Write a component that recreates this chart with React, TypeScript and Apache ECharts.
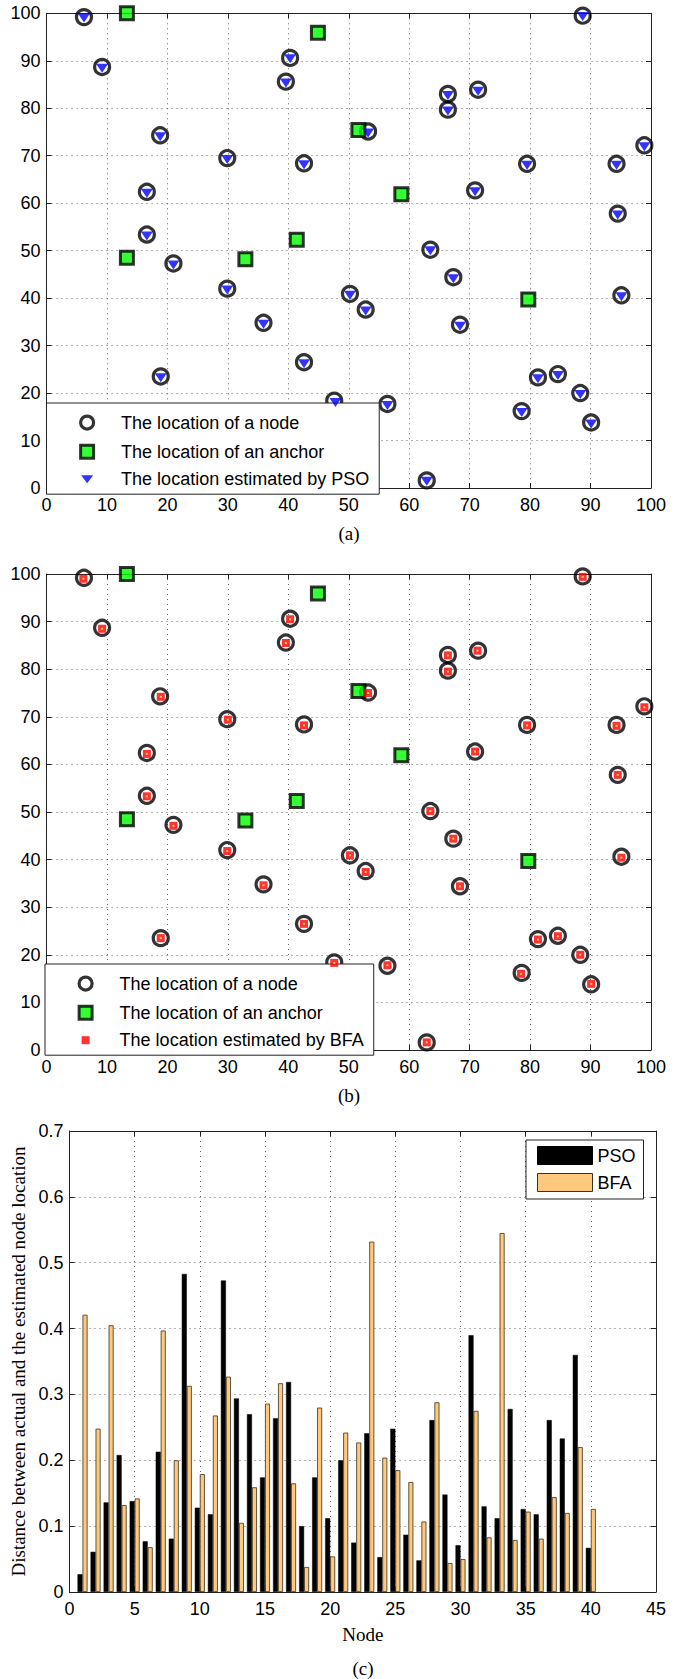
import React, { useEffect, useRef } from "react";
import * as echarts from "echarts";

// Actual node locations [x, y]
const nodes: [number, number][] = [
  [6.2, 99.2], [9.2, 88.7], [18.8, 74.3], [16.6, 62.4], [16.6, 53.4],
  [29.9, 69.5], [40.3, 90.6], [39.6, 85.6], [42.6, 68.4], [53.2, 75.1],
  [63.5, 50.2], [66.4, 83.0], [66.4, 79.7], [71.4, 83.9], [70.9, 62.7],
  [79.5, 68.3], [88.7, 99.5], [94.3, 68.3], [94.5, 57.8], [98.9, 72.2],
  [21.0, 47.3], [29.9, 42.0], [35.9, 34.8], [18.9, 23.5], [42.6, 26.5],
  [47.6, 18.4], [50.2, 40.9], [52.8, 37.6], [56.4, 17.7], [67.3, 44.4],
  [68.4, 34.4], [62.9, 1.6], [78.6, 16.2], [81.3, 23.3], [84.6, 24.0],
  [88.3, 20.0], [90.1, 13.8], [95.1, 40.6],
];

// Anchor locations
const anchors: [number, number][] = [
  [13.3, 100], [44.9, 95.9], [51.6, 75.4], [58.7, 61.9],
  [13.3, 48.5], [32.9, 48.2], [41.4, 52.3], [79.7, 39.7],
];

// Locations estimated by PSO
const psoEstimates: [number, number][] = [
  [6.2, 99.0], [9.2, 88.4], [18.8, 74.0], [16.6, 62.1], [16.6, 53.1],
  [29.9, 69.2], [40.3, 90.4], [39.6, 85.3], [42.6, 68.1], [53.2, 74.8],
  [63.5, 50.0], [66.4, 82.7], [66.4, 79.4], [71.4, 83.6], [70.9, 62.4],
  [79.5, 68.0], [88.7, 99.3], [94.3, 68.0], [94.5, 57.5], [98.9, 71.9],
  [21.0, 47.0], [29.9, 41.7], [35.9, 34.5], [18.9, 23.2], [42.6, 26.2],
  [47.8, 18.0], [50.2, 40.6], [52.8, 37.3], [56.4, 17.4], [67.3, 44.1],
  [68.4, 34.1], [62.9, 1.4], [78.6, 15.9], [81.3, 23.0], [84.6, 23.7],
  [88.3, 19.7], [90.1, 13.5], [95.1, 40.3],
];

// Locations estimated by BFA
const bfaEstimates: [number, number][] = [
  [6.1, 99.0], [9.2, 88.5], [18.9, 74.2], [16.6, 62.2], [16.6, 53.3],
  [30.0, 69.4], [40.3, 90.5], [39.6, 85.5], [42.6, 68.2], [53.2, 75.0],
  [63.5, 50.2], [66.4, 82.9], [66.4, 79.5], [71.3, 83.9], [70.9, 62.7],
  [79.5, 68.2], [88.7, 99.4], [94.3, 68.1], [94.5, 57.8], [98.9, 72.0],
  [21.0, 47.1], [29.9, 41.8], [35.9, 34.6], [18.9, 23.5], [42.6, 26.5],
  [47.6, 18.3], [50.2, 40.9], [52.8, 37.4], [56.4, 17.8], [67.3, 44.4],
  [68.4, 34.4], [62.9, 1.6], [78.5, 16.0], [81.3, 23.2], [84.6, 23.9],
  [88.3, 20.0], [90.1, 13.9], [95.1, 40.4],
];

// Bar chart (c)
const nodeIds = [
  1, 2, 3, 4, 5, 6, 7, 8, 9, 10, 11, 12, 13, 14, 15, 16, 17, 18, 19, 20,
  21, 22, 23, 24, 25, 26, 27, 28, 29, 30, 31, 32, 33, 34, 35, 36, 37, 38, 39, 40,
];
const psoError = [
  0.027, 0.061, 0.136, 0.208, 0.138, 0.077, 0.213, 0.081, 0.483, 0.128,
  0.118, 0.473, 0.294, 0.270, 0.174, 0.264, 0.319, 0.100, 0.174, 0.112,
  0.200, 0.075, 0.241, 0.053, 0.248, 0.087, 0.048, 0.261, 0.148, 0.071,
  0.390, 0.130, 0.112, 0.278, 0.126, 0.118, 0.261, 0.233, 0.360, 0.067,
];
const bfaError = [
  0.421, 0.248, 0.405, 0.132, 0.142, 0.068, 0.397, 0.200, 0.313, 0.179,
  0.268, 0.327, 0.105, 0.159, 0.286, 0.317, 0.165, 0.038, 0.280, 0.054,
  0.242, 0.227, 0.532, 0.204, 0.185, 0.167, 0.107, 0.288, 0.044, 0.050,
  0.275, 0.083, 0.545, 0.079, 0.122, 0.081, 0.144, 0.120, 0.220, 0.126,
];

const SANS = "Liberation Sans";
const SERIF = "Liberation Serif";

// legend icons: drawn centred in a 58x18 box (the leading moves fix the box)
const ICON_CIRCLE = "path://M0,0M58,18M22.5,9A6.5,6.5,0,1,1,35.5,9A6.5,6.5,0,1,1,22.5,9Z";
const ICON_SQUARE = "path://M0,0M58,18M22.5,2.5L35.5,2.5L35.5,15.5L22.5,15.5Z";
const ICON_TRI = "path://M0,0M58,18M23,5L35,5L29,13Z";
const ICON_SMALLSQ = "path://M0,0M58,18M25,5L33,5L33,13L25,13Z";
const SYM_TRI = "path://M0,0L12,0L6,9Z";

function axis(gridIndex: number, min: number, max: number, interval: number, position: string, main: boolean, margin: number) {
  return {
    type: "value",
    gridIndex,
    min,
    max,
    interval,
    position,
    axisLine: { show: true, onZero: false, lineStyle: { color: "#222", width: 1 } },
    axisTick: { show: true, inside: true, length: 5, lineStyle: { color: "#222", width: 1 } },
    axisLabel: { show: main, color: "#000", fontFamily: SANS, fontSize: 18, margin },
    splitLine: { show: main, lineStyle: { color: "#666", type: [1, 4], width: 1 } },
  };
}

const legendText = { fontFamily: SANS, fontSize: 18, color: "#000", lineHeight: 18 };

export default function App() {
  const ref = useRef<HTMLDivElement>(null);
  useEffect(() => {
    if (!ref.current) return;
    const chart = echarts.init(ref.current, undefined, { renderer: "svg" });
    const nodeStyle = { color: "rgba(0,0,0,0)", borderColor: "#000", borderWidth: 3.2 };
    const anchorStyle = { color: "#00ff00", borderColor: "#000", borderWidth: 3 };
    const option: any = {
      animation: false,
      backgroundColor: "#fff",
      grid: [
        { left: 46.5, top: 13.3, width: 604.5, height: 474.7 },
        { left: 46.5, top: 574, width: 604.5, height: 476 },
        { left: 69.5, top: 1131, width: 586.5, height: 461 },
      ],
      xAxis: [
        axis(0, 0, 100, 10, "bottom", true, 8),
        axis(1, 0, 100, 10, "bottom", true, 8),
        {
          ...axis(2, 0, 45, 5, "bottom", true, 8),
          name: "Node",
          nameLocation: "middle",
          nameGap: 33,
          nameTextStyle: { fontFamily: SERIF, fontSize: 19, color: "#000" },
        },
        axis(0, 0, 100, 10, "top", false, 8),
        axis(1, 0, 100, 10, "top", false, 8),
        axis(2, 0, 45, 5, "top", false, 8),
      ],
      yAxis: [
        axis(0, 0, 100, 10, "left", true, 6),
        axis(1, 0, 100, 10, "left", true, 6),
        {
          ...axis(2, 0, 0.7, 0.1, "left", true, 6),
          name: "Distance between actual and the estimated node location",
          nameLocation: "middle",
          nameGap: 41,
          nameTextStyle: { fontFamily: SERIF, fontSize: 19, color: "#000" },
        },
        axis(0, 0, 100, 10, "right", false, 6),
        axis(1, 0, 100, 10, "right", false, 6),
        axis(2, 0, 0.7, 0.1, "right", false, 6),
      ],
      legend: [
        {
          orient: "vertical",
          left: 46.5,
          top: 403,
          padding: [9, 10, 6, 10],
          itemWidth: 58,
          itemHeight: 18,
          itemGap: 8,
          borderColor: "#222",
          borderWidth: 1,
          borderRadius: 0,
          backgroundColor: "#fff",
          selectedMode: false,
          textStyle: legendText,
          data: [
            { name: "The location of a node", icon: ICON_CIRCLE, itemStyle: nodeStyle },
            { name: "The location of an anchor", icon: ICON_SQUARE, itemStyle: anchorStyle },
            { name: "The location estimated by PSO", icon: ICON_TRI, itemStyle: { color: "#0000ff", borderWidth: 0 } },
          ],
        },
        {
          orient: "vertical",
          left: 45,
          top: 964,
          padding: [9, 10, 6, 10],
          itemWidth: 58,
          itemHeight: 18,
          itemGap: 8,
          borderColor: "#222",
          borderWidth: 1,
          borderRadius: 0,
          backgroundColor: "#fff",
          selectedMode: false,
          textStyle: legendText,
          data: [
            { name: "The location of a node", icon: ICON_CIRCLE, itemStyle: nodeStyle },
            { name: "The location of an anchor", icon: ICON_SQUARE, itemStyle: anchorStyle },
            { name: "The location estimated by BFA", icon: ICON_SMALLSQ, itemStyle: { color: "#ff0000", borderWidth: 0 } },
          ],
        },
        {
          orient: "vertical",
          left: 526,
          top: 1140,
          padding: [6, 8, 7, 11],
          itemWidth: 55,
          itemHeight: 18,
          itemGap: 8,
          borderColor: "#222",
          borderWidth: 1,
          borderRadius: 0,
          backgroundColor: "#fff",
          selectedMode: false,
          textStyle: legendText,
          data: [
            { name: "PSO", icon: "rect", itemStyle: { color: "#000", borderColor: "#000", borderWidth: 1 } },
            { name: "BFA", icon: "rect", itemStyle: { color: "#ffc87c", borderColor: "#3a3020", borderWidth: 1 } },
          ],
        },
      ],
      series: [
        {
          name: "The location of a node", type: "scatter", xAxisIndex: 0, yAxisIndex: 0,
          data: nodes, symbol: "circle", symbolSize: 15, itemStyle: nodeStyle, z: 2,
        },
        {
          name: "The location of an anchor", type: "scatter", xAxisIndex: 0, yAxisIndex: 0,
          data: anchors, symbol: "rect", symbolSize: 13, itemStyle: anchorStyle, z: 3,
        },
        {
          name: "The location estimated by PSO", type: "scatter", xAxisIndex: 0, yAxisIndex: 0,
          data: psoEstimates, symbol: SYM_TRI, symbolSize: [12, 9], symbolKeepAspect: false,
          itemStyle: { color: "#0000ff" }, z: 4,
        },
        {
          name: "The location of a node", type: "scatter", xAxisIndex: 1, yAxisIndex: 1,
          data: nodes, symbol: "circle", symbolSize: 15, itemStyle: nodeStyle, z: 2,
        },
        {
          name: "The location of an anchor", type: "scatter", xAxisIndex: 1, yAxisIndex: 1,
          data: anchors, symbol: "rect", symbolSize: 13, itemStyle: anchorStyle, z: 3,
        },
        {
          name: "The location estimated by BFA", type: "scatter", xAxisIndex: 1, yAxisIndex: 1,
          data: bfaEstimates, symbol: "rect", symbolSize: 8, itemStyle: { color: "#ff0000" }, z: 4,
        },
        {
          name: "bfa-center", type: "scatter", xAxisIndex: 1, yAxisIndex: 1, silent: true,
          data: bfaEstimates, symbol: "rect", symbolSize: 2, itemStyle: { color: "#ffff55" }, z: 5,
        },
        {
          name: "PSO", type: "bar", xAxisIndex: 2, yAxisIndex: 2,
          data: nodeIds.map((n, i) => [n, psoError[i]]),
          barWidth: 5, barGap: "0%",
          itemStyle: { color: "#000", borderColor: "#000", borderWidth: 0.5 },
        },
        {
          name: "BFA", type: "bar", xAxisIndex: 2, yAxisIndex: 2,
          data: nodeIds.map((n, i) => [n, bfaError[i]]),
          barWidth: 5, barGap: "0%",
          itemStyle: { color: "#ffc87c", borderColor: "#3a3020", borderWidth: 0.8 },
        },
      ],
      graphic: [
        { type: "text", x: 349, y: 533, style: { text: "(a)", fill: "#000", font: `19px "${SERIF}"`, textAlign: "center", textVerticalAlign: "middle" } },
        { type: "text", x: 349, y: 1095, style: { text: "(b)", fill: "#000", font: `19px "${SERIF}"`, textAlign: "center", textVerticalAlign: "middle" } },
        { type: "text", x: 363, y: 1668, style: { text: "(c)", fill: "#000", font: `19px "${SERIF}"`, textAlign: "center", textVerticalAlign: "middle" } },
      ],
    };
    chart.setOption(option);
    return () => chart.dispose();
  }, []);
  return (
    <div
      ref={ref}
      style={{ position: "absolute", left: 0, top: 0, width: 681, height: 1679, background: "#fff" }}
    />
  );
}
